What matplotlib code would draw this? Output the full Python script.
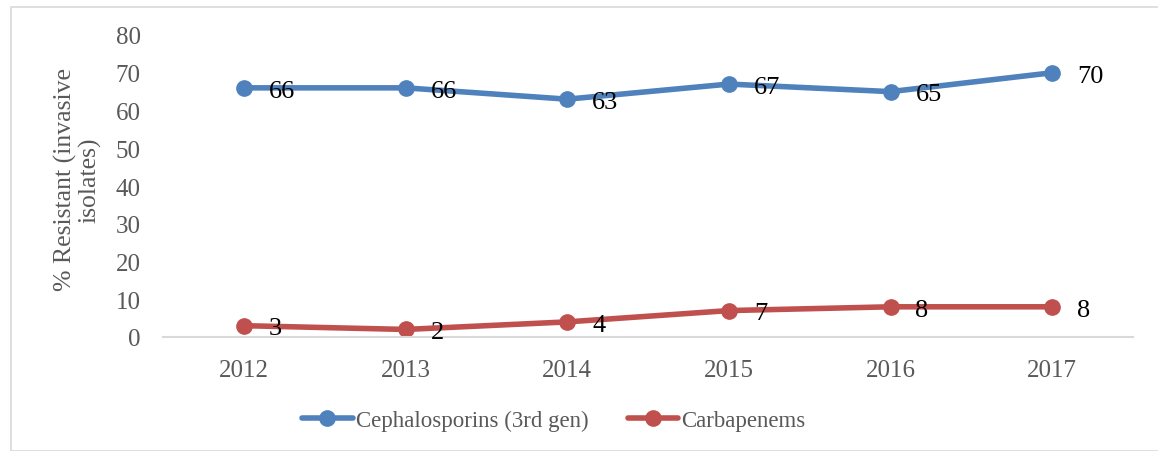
import matplotlib
matplotlib.use("Agg")
import matplotlib.pyplot as plt
from matplotlib.patches import Rectangle

years = ["2012", "2013", "2014", "2015", "2016", "2017"]
cephalosporins = [66, 66, 63, 67, 65, 70]
carbapenems = [3, 2, 4, 7, 8, 8]
series_names = ["Cephalosporins (3rd gen)", "Carbapenems"]
yticks = [0, 10, 20, 30, 40, 50, 60, 70, 80]

plt.rcParams['font.family'] = ['Liberation Serif', 'DejaVu Serif']

W, H = 1158, 452
fig = plt.figure(figsize=(W / 100, H / 100), dpi=100)
fig.patches.append(Rectangle((11 / W, 0), 1.2, 1 - 8 / H, transform=fig.transFigure,
                             fill=False, edgecolor='#D9D9D9', linewidth=1.2))

ax = fig.add_axes([163 / W, 1 - 338 / H, (1133 - 163) / W, (338 - 36) / H])
x = list(range(len(years)))
blue = '#4F81BD'
red = '#C0504D'
ax.plot(x, cephalosporins, color=blue, lw=4, marker='o', ms=11, label=series_names[0],
        solid_capstyle='round')
ax.plot(x, carbapenems, color=red, lw=4, marker='o', ms=11, label=series_names[1],
        solid_capstyle='round')

for xi, v in zip(x, cephalosporins):
    ax.annotate(str(v), (xi, v), xytext=(18, -2), textcoords='offset points',
                ha='left', va='center', fontsize=19, color='black')
for xi, v in zip(x, carbapenems):
    ax.annotate(str(v), (xi, v), xytext=(18, -2), textcoords='offset points',
                ha='left', va='center', fontsize=19, color='black')

ax.set_xlim(-0.5, len(years) - 0.5)
ax.set_ylim(0, 80)
ax.set_yticks(yticks)
ax.set_xticks(x)
ax.set_xticklabels(years)
ax.tick_params(axis='both', length=0, labelsize=18, labelcolor='#595959')
ax.tick_params(axis='x', pad=16)
ax.tick_params(axis='y', pad=16)
for s in ['top', 'right', 'left']:
    ax.spines[s].set_visible(False)
ax.spines['bottom'].set_color('#D9D9D9')
ax.spines['bottom'].set_linewidth(1.5)

fig.text(78 / W, 1 - 180 / H, "% Resistant (invasive\nisolates)", rotation=90,
         ha='center', va='center', fontsize=18.5, color='#595959', linespacing=1.1)

leg = ax.legend(loc='center', bbox_to_anchor=(554 / W, 1 - 421 / H),
                bbox_transform=fig.transFigure, ncol=2, frameon=False,
                fontsize=16.5, handlelength=2.2, handletextpad=0.15, columnspacing=1.7)
for t in leg.get_texts():
    t.set_color('#595959')

fig.savefig("out.png", dpi=100)
